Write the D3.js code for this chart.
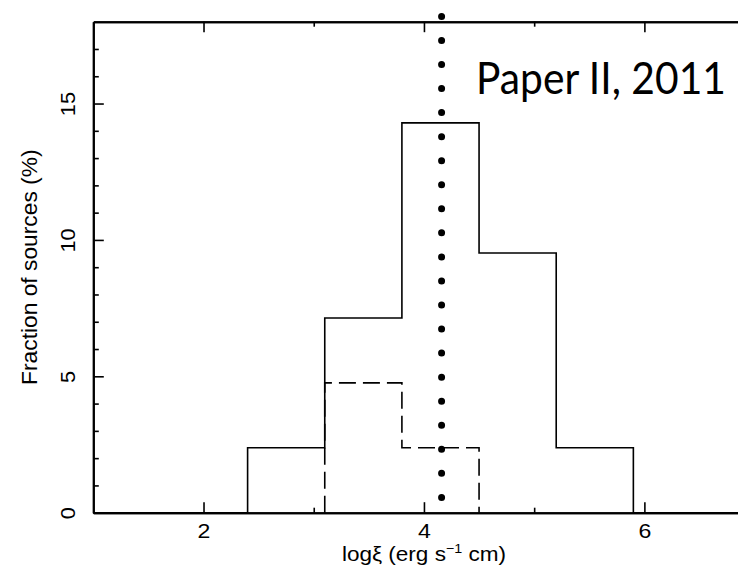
<!DOCTYPE html>
<html>
<head>
<meta charset="utf-8">
<script src="https://cdn.jsdelivr.net/npm/d3@7/dist/d3.min.js"></script>
<style>
  html, body { margin: 0; padding: 0; background: #fff; }
  svg { display: block; }
  text { font-family: "Liberation Sans", Arial, Helvetica, sans-serif; fill: #000; }
  text.annotation { font-family: Lato, "Open Sans", sans-serif; }
</style>
</head>
<body>
<svg id="chart" width="738" height="572"></svg>
<script>
// Histogram bin edges in log xi (erg s^-1 cm)
const binEdges = [2.4, 3.1, 3.8, 4.5, 5.2, 5.9];
// Fraction of all sources per bin (%)
const allSources = [2.38, 7.14, 14.29, 9.52, 2.38];
// Sub-sample histogram (dashed): its own edges and fractions (%)
const subsetEdges = [3.1, 3.8, 4.5];
const subsetValues = [4.76, 2.38];
// Mean ionisation parameter (dotted vertical line) and its vertical extent
const meanLogXi = 4.16;
const meanLineSpan = [0.56, 18.2];
// Axis ticks
const xMajorTicks = [2, 4, 6];
const xMinorTicks = [3, 5];
const yMajorTicks = [0, 5, 10, 15];
const yMinorTicks = [1, 2, 3, 4, 6, 7, 8, 9, 11, 12, 13, 14, 16, 17];
const xDomain = [1, 7];
const yDomain = [0, 18];
const annotation = "Paper II, 2011";
const xTitle = ["logξ (erg s", "−1", " cm)"];
const yTitle = "Fraction of sources (%)";

const svg = d3.select("#chart");
const plotLeft = 93.3, plotRight = 754.6, plotTop = 21.7, plotBottom = 512.7;

const x = d3.scaleLinear().domain(xDomain).range([plotLeft, plotRight]);
const y = d3.scaleLinear().domain(yDomain).range([plotBottom, plotTop]);

// Step outline of a histogram, closed to zero at both ends
function stepPath(edges, values, x0, x1) {
  const p = d3.path();
  p.moveTo(x(x0), y(0));
  p.lineTo(x(edges[0]), y(0));
  values.forEach((v, i) => {
    p.lineTo(x(edges[i]), y(v));
    p.lineTo(x(edges[i + 1]), y(v));
  });
  p.lineTo(x(edges[edges.length - 1]), y(0));
  p.lineTo(x(x1), y(0));
  return p.toString();
}

// Full sample, solid
svg.append("path")
  .attr("d", stepPath(binEdges, allSources, xDomain[0], xDomain[1]))
  .attr("fill", "none").attr("stroke", "#000").attr("stroke-width", 1.6);

// Sub-sample, dashed
svg.append("path")
  .attr("d", stepPath(subsetEdges, subsetValues, subsetEdges[0], subsetEdges[subsetEdges.length - 1]))
  .attr("fill", "none").attr("stroke", "#000").attr("stroke-width", 1.6)
  .attr("stroke-dasharray", "17 7");

// Mean value, heavy dotted
svg.append("line")
  .attr("x1", x(meanLogXi)).attr("x2", x(meanLogXi))
  .attr("y1", y(meanLineSpan[0])).attr("y2", y(meanLineSpan[1]))
  .attr("stroke", "#000").attr("stroke-width", 7)
  .attr("stroke-linecap", "round").attr("stroke-dasharray", "0 24.05");

// Axes: ticks point inward
const axisG = svg.append("g");
function styleAxis(g) {
  g.select(".domain").attr("stroke-width", 2);
  g.selectAll(".tick line").attr("stroke-width", 1.6);
}
const tickFont = 21;

// bottom major with labels
axisG.append("g").attr("transform", `translate(0,${plotBottom})`)
  .call(d3.axisBottom(x).tickValues(xMajorTicks).tickFormat(d3.format("d"))
    .tickSizeInner(-10.5).tickSizeOuter(0).tickPadding(10.6))
  .call(styleAxis)
  .call(g => g.selectAll(".tick text")
    .attr("font-size", tickFont).attr("transform", "scale(1.1,1)"));
// bottom minor
axisG.append("g").attr("transform", `translate(0,${plotBottom})`)
  .call(d3.axisBottom(x).tickValues(xMinorTicks).tickFormat("").tickSizeInner(-5).tickSizeOuter(0))
  .call(styleAxis);
// top major and minor (no labels)
axisG.append("g").attr("transform", `translate(0,${plotTop})`)
  .call(d3.axisTop(x).tickValues(xMajorTicks).tickFormat("").tickSizeInner(-10.5).tickSizeOuter(0))
  .call(styleAxis);
axisG.append("g").attr("transform", `translate(0,${plotTop})`)
  .call(d3.axisTop(x).tickValues(xMinorTicks).tickFormat("").tickSizeInner(-5).tickSizeOuter(0))
  .call(styleAxis);

// left major with rotated labels
axisG.append("g").attr("transform", `translate(${plotLeft},0)`)
  .call(d3.axisLeft(y).tickValues(yMajorTicks).tickFormat(d3.format("d"))
    .tickSizeInner(-10.5).tickSizeOuter(0))
  .call(styleAxis)
  .call(g => g.selectAll(".tick text")
    .attr("x", null).attr("dy", null)
    .attr("text-anchor", "middle")
    .attr("font-size", tickFont)
    .attr("transform", "translate(-18.3,0) rotate(-90) scale(1.04,1)"));
// left minor
axisG.append("g").attr("transform", `translate(${plotLeft},0)`)
  .call(d3.axisLeft(y).tickValues(yMinorTicks).tickFormat("").tickSizeInner(-5.5).tickSizeOuter(0))
  .call(styleAxis);

// Axis titles
const xt = svg.append("text")
  .attr("transform", `translate(${(plotLeft + plotRight) / 2},561) scale(1.1,1)`)
  .attr("text-anchor", "middle").attr("font-size", 20.5);
xt.append("tspan").text(xTitle[0]);
xt.append("tspan").attr("dy", -8).attr("font-size", 13).text(xTitle[1]);
xt.append("tspan").attr("dy", 8).text(xTitle[2]);

svg.append("text")
  .attr("transform", `translate(37,${(plotTop + plotBottom) / 2}) rotate(-90) scale(1.06,1)`)
  .attr("text-anchor", "middle").attr("font-size", 21.5)
  .text(yTitle);

// Annotation, squeezed horizontally to a fixed width
const ann = svg.append("text")
  .attr("class", "annotation")
  .attr("font-size", 45)
  .text(annotation);
const annWidth = 250;
const natural = ann.node().getComputedTextLength();
ann.attr("transform", `translate(476,94.3) scale(${annWidth / natural},1)`);
</script>
</body>
</html>
